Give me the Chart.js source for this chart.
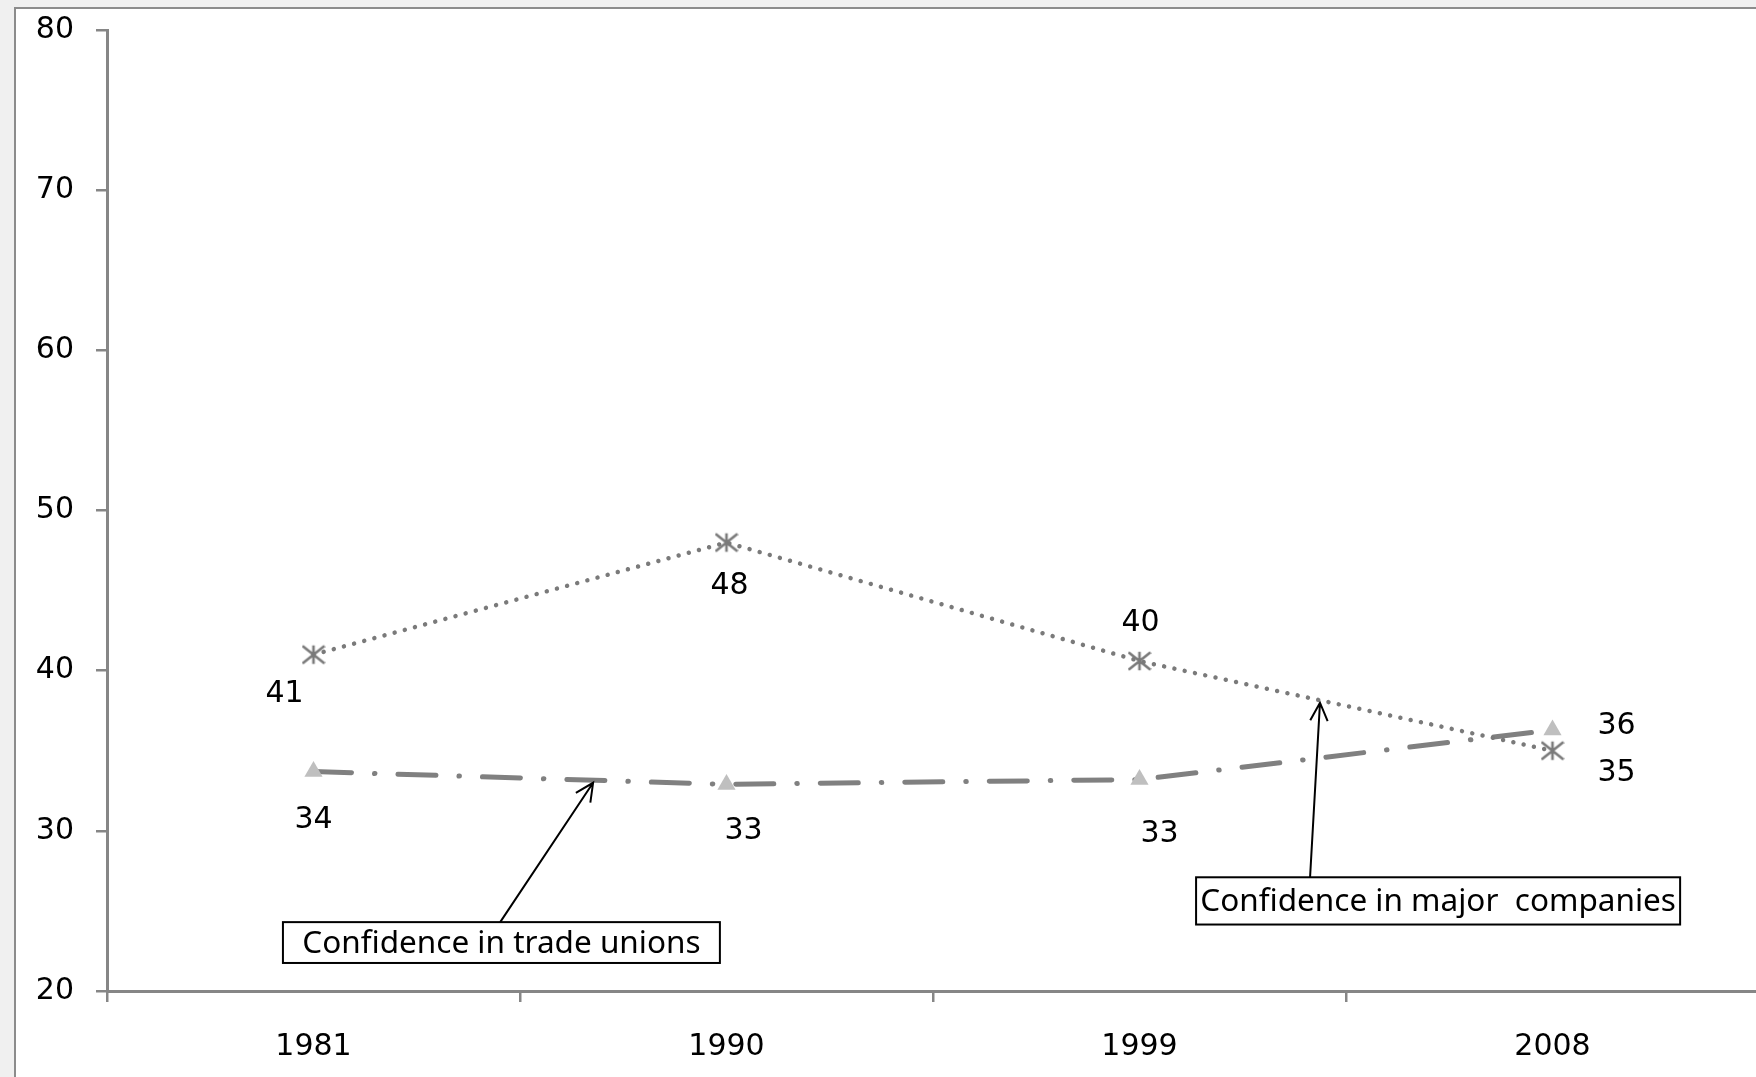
<!DOCTYPE html>
<html>
<head>
<meta charset="utf-8">
<script src="https://cdn.jsdelivr.net/npm/chart.js@4/dist/chart.umd.min.js"></script>
<style>
  html, body { margin: 0; padding: 0; width: 1756px; height: 1077px; overflow: hidden; background: #f0f0f0; }
  #frame { position: absolute; left: 14px; top: 7px; width: 1800px; height: 1100px; background: #fff;
           border-left: 2px solid #8c8c8c; border-top: 2px solid #8c8c8c; }
  #wrap { position: absolute; left: 0; top: 0; width: 1800px; height: 1077px; }
</style>
</head>
<body>
<div id="frame"></div>
<div id="wrap"><canvas id="chart" width="1800" height="1077"></canvas></div>
<script>
// DATA //
const years = ["1981", "1990", "1999", "2008"];
const companies = [41, 48, 40.6, 35];
const unions = [33.7, 32.9, 33.2, 36.3];
const companyLabels = ["41", "48", "40", "35"];
const unionLabels = ["34", "33", "33", "36"];

// label offsets from the point, in px
const companyOffsets = [[-29, 40], [3, 44], [1, -38], [64, 22]];
const unionOffsets = [[0, 49], [17, 47], [20, 55], [64, -4]];

// callout boxes, in data units (category index, value)
const callouts = [
  { text: "Confidence in trade unions", x0: -0.074, x1: 0.984, y0: 24.3, y1: 21.75,
    from: [0.452, 24.3], to: [0.677, 33.0] },
  { text: "Confidence in major  companies", x0: 2.137, x1: 3.309, y0: 27.1, y1: 24.15,
    from: [2.413, 27.1], to: [2.437, 38.0] },
];

const axisGrey = "#868686";
const tickFont = { family: "DejaVu Sans", size: 30 };

// asterisk marker: vertical stroke plus an X
function makeStar(size, color, lw) {
  const c = document.createElement("canvas");
  c.width = c.height = size;
  const g = c.getContext("2d");
  const m = size / 2, r = size / 2 - 1;
  g.strokeStyle = color;
  g.lineWidth = lw;
  g.beginPath();
  g.moveTo(m, m - r * 0.85); g.lineTo(m, m + r * 0.85);
  g.moveTo(m - r, m - r * 0.8); g.lineTo(m + r, m + r * 0.8);
  g.moveTo(m - r, m + r * 0.8); g.lineTo(m + r, m - r * 0.8);
  g.stroke();
  return c;
}

const pointLabels = {
  id: "pointLabels",
  afterDatasetsDraw(chart) {
    const ctx = chart.ctx;
    const sets = [[companyLabels, companyOffsets], [unionLabels, unionOffsets]];
    ctx.save();
    ctx.font = "30px 'DejaVu Sans'";
    ctx.fillStyle = "#000";
    ctx.textAlign = "center";
    ctx.textBaseline = "middle";
    sets.forEach(([labels, offs], i) => {
      chart.getDatasetMeta(i).data.forEach((pt, j) => {
        ctx.fillText(labels[j], pt.x + offs[j][0], pt.y + offs[j][1]);
      });
    });
    ctx.restore();
  },
};

const calloutBoxes = {
  id: "calloutBoxes",
  afterDatasetsDraw(chart) {
    const ctx = chart.ctx;
    const xs = chart.scales.x, ys = chart.scales.y;
    ctx.save();
    callouts.forEach((c) => {
      const l = xs.getPixelForValue(c.x0), r = xs.getPixelForValue(c.x1);
      const t = ys.getPixelForValue(c.y0), b = ys.getPixelForValue(c.y1);
      ctx.fillStyle = "#fff";
      ctx.fillRect(l, t, r - l, b - t);
      ctx.strokeStyle = "#000";
      ctx.lineWidth = 2;
      ctx.strokeRect(l, t, r - l, b - t);
      ctx.fillStyle = "#000";
      ctx.font = "31.5px 'Noto Sans'";
      ctx.textAlign = "center";
      ctx.textBaseline = "middle";
      ctx.fillText(c.text, (l + r) / 2, (t + b) / 2 + 1);
      // arrow
      const fx = xs.getPixelForValue(c.from[0]), fy = ys.getPixelForValue(c.from[1]);
      const tx = xs.getPixelForValue(c.to[0]), ty = ys.getPixelForValue(c.to[1]);
      const ang = Math.atan2(ty - fy, tx - fx);
      const head = 20;
      ctx.beginPath();
      ctx.moveTo(fx, fy);
      ctx.lineTo(tx, ty);
      ctx.moveTo(tx - head * Math.cos(ang - 0.45), ty - head * Math.sin(ang - 0.45));
      ctx.lineTo(tx, ty);
      ctx.lineTo(tx - head * Math.cos(ang + 0.45), ty - head * Math.sin(ang + 0.45));
      ctx.stroke();
    });
    ctx.restore();
  },
};

new Chart(document.getElementById("chart"), {
  type: "line",
  data: {
    labels: years,
    datasets: [
      {
        label: "Confidence in major companies",
        data: companies,
        borderColor: "#7a7a7a",
        borderWidth: 4.5,
        borderDash: [0.01, 10.5],
        borderCapStyle: "round",
        tension: 0,
        pointStyle: makeStar(24, "#7a7a7a", 2.6),
        pointRadius: 12,
      },
      {
        label: "Confidence in trade unions",
        data: unions,
        borderColor: "#808080",
        borderWidth: 5,
        borderDash: [38, 23, 0.5, 23],
        borderCapStyle: "round",
        tension: 0,
        pointStyle: "triangle",
        pointRadius: 10.5,
        pointBackgroundColor: "#bfbfbf",
        pointBorderWidth: 0,
      },
    ],
  },
  options: {
    responsive: false,
    devicePixelRatio: 1,
    animation: false,
    layout: { padding: { left: 0, top: 30, right: 41, bottom: 0 } },
    plugins: { legend: { display: false }, tooltip: { enabled: false } },
    scales: {
      x: {
        offset: true,
        grid: { offset: true, drawOnChartArea: false, drawTicks: true, tickLength: 11, color: axisGrey, lineWidth: 2.5 },
        border: { display: true, color: axisGrey, width: 3 },
        ticks: { color: "#000", font: tickFont, padding: 27, maxRotation: 0 },
        afterFit(scale) { scale.height = 86; },
      },
      y: {
        min: 20,
        max: 80,
        grid: { drawOnChartArea: false, drawTicks: true, tickLength: 11, color: axisGrey, lineWidth: 2.5 },
        border: { display: true, color: axisGrey, width: 3 },
        ticks: { stepSize: 10, color: "#000", font: tickFont, padding: 22 },
        afterFit(scale) {
          scale.width = 107;
          scale.paddingTop = 0;
          scale.paddingBottom = 0;
        },
      },
    },
  },
  plugins: [pointLabels, calloutBoxes],
});
</script>
</body>
</html>
